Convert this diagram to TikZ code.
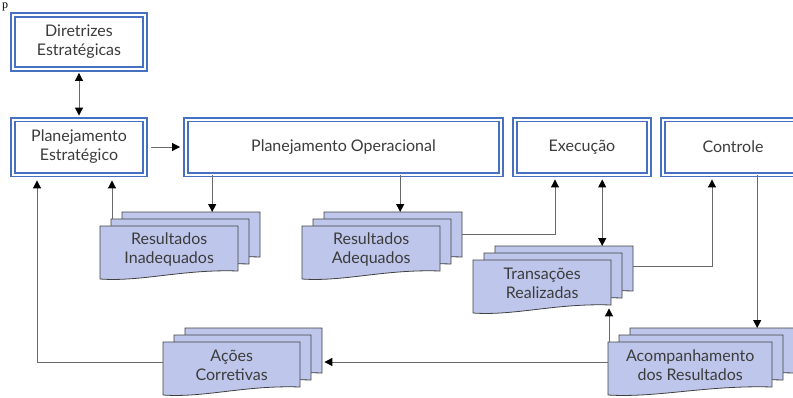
\documentclass[tikz,border=0pt]{standalone}
\usepackage{fontspec}
\setmainfont{Lato}
\newfontfamily\serifp{Liberation Serif}
\usetikzlibrary{arrows.meta,calc}

\definecolor{boxblue}{RGB}{72,112,192}
\definecolor{docfill}{RGB}{190,199,235}
\definecolor{txt}{RGB}{60,60,60}
\definecolor{lgray}{RGB}{105,105,105}

\tikzset{
  blk/.style={draw=boxblue, line width=1.9pt, double=white, double distance=2pt,
    fill=white, text=txt, align=center, inner sep=0pt, minimum height=55pt},
  docsty/.style={fill=docfill, draw=black!75, line width=0.8pt},
  docnode/.style={inner sep=0pt, minimum height=46pt, anchor=north west},
  arr/.style={draw=lgray, line width=1pt, -{Triangle[length=8pt,width=8pt,color=black]}},
  arrr/.style={draw=lgray, line width=1pt, {Triangle[length=8pt,width=8pt,color=black]}-{Triangle[length=8pt,width=8pt,color=black]}}
}

\newcommand{\docshape}[3]{%
  \filldraw[docsty] (#1,#2) -- ({#1+#3},#2) -- ({#1+#3},{#2+45})
    .. controls ({#1+0.6*#3},{#2+43}) and ({#1+0.3*#3},{#2+56}) .. (#1,{#2+53}) -- cycle;}

\newcommand{\docstack}[5]{%
  \docshape{#2+22}{#3-14}{#4}
  \docshape{#2+11}{#3-7}{#4}
  \docshape{#2}{#3}{#4}
  \node[docnode, minimum width=#4] (#1-b) at ({#2+22},{#3-14}) {};
  \node[docnode, minimum width=#4] (#1-m) at ({#2+11},{#3-7}) {};
  \node[docnode, minimum width=#4, text=txt, align=center] (#1) at (#2,#3) {#5};
}

\begin{document}
\begin{tikzpicture}[x=1pt, y=-1pt, font=\fontsize{16}{19}\selectfont]
  \useasboundingbox (0,0) rectangle (793,397);

  \node (pg) [anchor=base west, inner sep=0pt, font=\serifp\fontsize{12}{12}\selectfont] at (2,8.5) {p};

  \node[blk, minimum width=132pt, minimum height=54pt] (dir) at (79,42) {Diretrizes\\Estratégicas};
  \node[blk, minimum width=132pt] (pe) at (79,147) {Planejamento\\Estratégico};
  \node[blk, minimum width=315pt] (po) at (343.5,147) {Planejamento Operacional};
  \node[blk, minimum width=134pt] (exe) at (582,147) {Execução};
  \node[blk, minimum width=140pt] (ctl) at (733,147) {Controle};

  \docstack{ri}{100}{226}{138}{Resultados\\Inadequados}
  \docstack{ra}{302}{226}{138}{Resultados\\Adequados}
  \docstack{tr}{473}{260}{138}{Transações\\Realizadas}
  \docstack{ac}{608}{342}{164}{Acompanhamento\\dos Resultados}
  \docstack{ao}{163}{342}{137}{Ações\\Corretivas}

  \coordinate (riin) at ([xshift=21pt]ri-b.north);
  \coordinate (riout) at ([xshift=1pt]ri-m.north west);
  \coordinate (rain) at ([xshift=7pt]ra-b.north);
  \coordinate (raout) at ([yshift=-22pt]ra-b.north east);
  \coordinate (trin) at ([xshift=38pt]tr-b.north);
  \coordinate (trout) at ([yshift=-20pt]tr-b.north east);
  \coordinate (acin) at ([xshift=45pt]ac-b.north);
  \coordinate (acup) at ([xshift=1pt]ac.north west);
  \coordinate (acl) at ([yshift=-20pt]ac.north west);
  \coordinate (aoin) at ([yshift=-34pt]ao-b.north east);
  \coordinate (aol) at ([yshift=-20pt]ao.north west);
  \coordinate (peleft) at ([xshift=-42pt]pe.south);
  \coordinate (peright) at (pe.south -| riout);
  \coordinate (exeleft) at ([xshift=-27pt]exe.south);
  \coordinate (ctlleft) at ([xshift=-21pt]ctl.south);

  \draw[arrr, shorten <=3pt, shorten >=3pt] (dir.south) -- (pe.north);
  \draw[arr, shorten <=5pt, shorten >=5pt] (pe.east) -- (po.west);
  \draw[arr] (po.south -| riin) -- (riin);
  \draw[arr, shorten >=5pt] (riout) -- (peright);
  \draw[arr] (po.south -| rain) -- (rain);
  \draw[arr, shorten >=4pt] (raout) -| (exeleft);
  \draw[arrr, shorten <=4pt] (exe.south -| trin) -- (trin);
  \draw[arr, shorten >=4pt] (trout) -| (ctlleft);
  \draw[arr] (acin |- ctl.south) -- (acin);
  \draw[arr, shorten >=2pt] (acup) -- (acup |- tr.south);
  \draw[arr, shorten >=2pt] (acl) -- (aoin);
  \draw[arr, shorten >=5pt] (aol) -| (peleft);
\end{tikzpicture}
\end{document}
